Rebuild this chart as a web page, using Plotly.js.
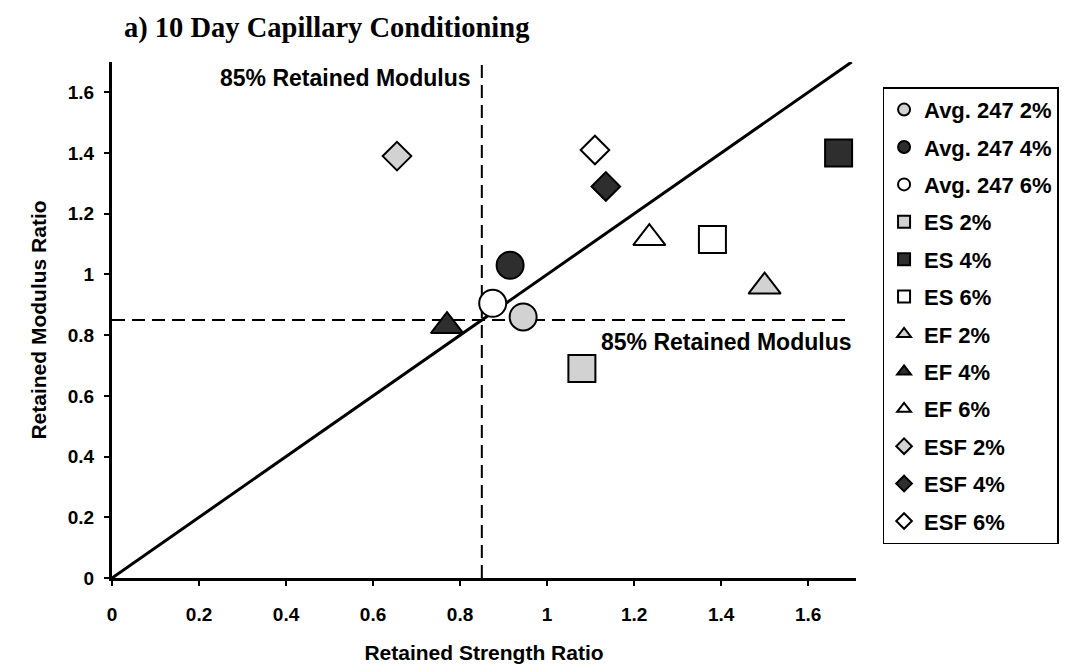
<!DOCTYPE html>
<html>
<head>
<meta charset="utf-8">
<script src="https://cdn.plot.ly/plotly-3.0.1.min.js"></script>
<style>
html,body{margin:0;padding:0;background:#ffffff;}
#chart{width:1071px;height:670px;}
</style>
</head>
<body>
<div id="chart"></div>
<script>
// ---- data ----
const seriesNames   = ["Avg. 247 2%", "Avg. 247 4%", "Avg. 247 6%",
                       "ES 2%", "ES 4%", "ES 6%",
                       "EF 2%", "EF 4%", "EF 6%",
                       "ESF 2%", "ESF 4%", "ESF 6%"];
const strengthRatio = [0.945, 0.915, 0.875, 1.08, 1.67, 1.38, 1.50, 0.77, 1.235, 0.655, 1.135, 1.11];
const modulusRatio  = [0.86, 1.03, 0.905, 0.69, 1.40, 1.115, 0.96, 0.83, 1.12, 1.39, 1.29, 1.41];
const retainedLimit = [0.85];          // 85% retained modulus / strength
const equalityLine  = [0, 1.7];        // line of equality end points
const axisExtent    = [0, 1.7];
const tickValues    = [0, 0.2, 0.4, 0.6, 0.8, 1, 1.2, 1.4, 1.6];
const tickLabels    = ["0", "0.2", "0.4", "0.6", "0.8", "1", "1.2", "1.4", "1.6"];

// ---- styling ----
const symbolByFamily = {"Avg. 247": "circle", "ES": "square", "EF": "triangle-up", "ESF": "diamond"};
const sizeByFamily   = {"Avg. 247": 27, "ES": 27, "EF": 28, "ESF": 22};
const fillByDose     = {"2%": "#d2d2d2", "4%": "#2e2e2e", "6%": "#ffffff"};
const FONT = "Arial, 'Liberation Sans', sans-serif";

const traces = [];
// line of equality
traces.push({
  x: equalityLine, y: equalityLine, mode: "lines", type: "scatter",
  line: {color: "#000", width: 3}, showlegend: false, hoverinfo: "skip"
});
// 85% vertical
traces.push({
  x: [retainedLimit[0], retainedLimit[0]], y: axisExtent, mode: "lines", type: "scatter",
  line: {color: "#000", width: 2, dash: "13px,7px"}, showlegend: false, hoverinfo: "skip"
});
// 85% horizontal
traces.push({
  x: axisExtent, y: [retainedLimit[0], retainedLimit[0]], mode: "lines", type: "scatter",
  line: {color: "#000", width: 2, dash: "13px,7px"}, showlegend: false, hoverinfo: "skip"
});

seriesNames.forEach((name, i) => {
  const parts = name.split(" ");
  const dose = parts[parts.length - 1];
  const fam = parts.slice(0, parts.length - 1).join(" ");
  traces.push({
    x: [strengthRatio[i]], y: [modulusRatio[i]],
    name: name, legendgroup: "g" + i,
    mode: "markers", type: "scatter", cliponaxis: false,
    marker: {
      symbol: symbolByFamily[fam], size: sizeByFamily[fam],
      color: fillByDose[dose], line: {color: "#000", width: 2}
    }
  });
});

const axisCommon = {
  range: axisExtent, tickmode: "array", tickvals: tickValues, ticktext: tickLabels,
  showline: true, linecolor: "#000", linewidth: 3, mirror: false,
  ticks: "outside", ticklen: 5, tickwidth: 2, tickcolor: "#000",
  showgrid: false, zeroline: false,
  tickfont: {family: FONT, size: 19, weight: 700, color: "#000"}
};

const layout = {
  width: 1071, height: 670,
  paper_bgcolor: "#fff", plot_bgcolor: "#fff",
  margin: {l: 112, r: 203, t: 62, b: 92},
  showlegend: true,
  title: {
    text: "a) 10 Day Capillary Conditioning",
    x: 124 / 1071, xref: "container", xanchor: "left",
    y: 1 - 27 / 670, yref: "container", yanchor: "middle",
    font: {family: "'Liberation Serif', 'Times New Roman', serif", size: 28.5, weight: 700, color: "#000"}
  },
  xaxis: Object.assign({}, axisCommon, {
    range: [0, 1.71],
    ticklabelstandoff: 12,
    title: {text: "Retained Strength Ratio", standoff: 22,
            font: {family: FONT, size: 21, weight: 700, color: "#000"}}
  }),
  yaxis: Object.assign({}, axisCommon, {
    ticklabelstandoff: 6,
    title: {text: "Retained Modulus Ratio", standoff: 16,
            font: {family: FONT, size: 21, weight: 700, color: "#000"}}
  }),
  legend: {
    x: 1.0357, xanchor: "left", y: 0.951, yanchor: "top",
    bordercolor: "#000", borderwidth: 1.5, bgcolor: "#fff",
    traceorder: "grouped", tracegroupgap: 5.8, itemsizing: "constant",
    font: {family: FONT, size: 22, weight: 700, color: "#000"}
  },
  annotations: [
    {text: "85% Retained Modulus", xref: "x", yref: "y", x: 0.828, y: 1.647,
     xanchor: "right", yanchor: "middle", showarrow: false,
     font: {family: FONT, size: 23, weight: 700, color: "#000"}},
    {text: "85% Retained Modulus", xref: "x", yref: "y", x: 1.12, y: 0.777,
     xanchor: "left", yanchor: "middle", showarrow: false,
     font: {family: FONT, size: 23, weight: 700, color: "#000"}},
    {text: "Line of Equality", xref: "x", yref: "y", x: 1.735, y: 1.756,
     xanchor: "right", yanchor: "middle", showarrow: false,
     font: {family: FONT, size: 19, weight: 700, color: "#000"}}
  ]
};

Plotly.newPlot("chart", traces, layout, {displayModeBar: false, staticPlot: true});
</script>
</body>
</html>
